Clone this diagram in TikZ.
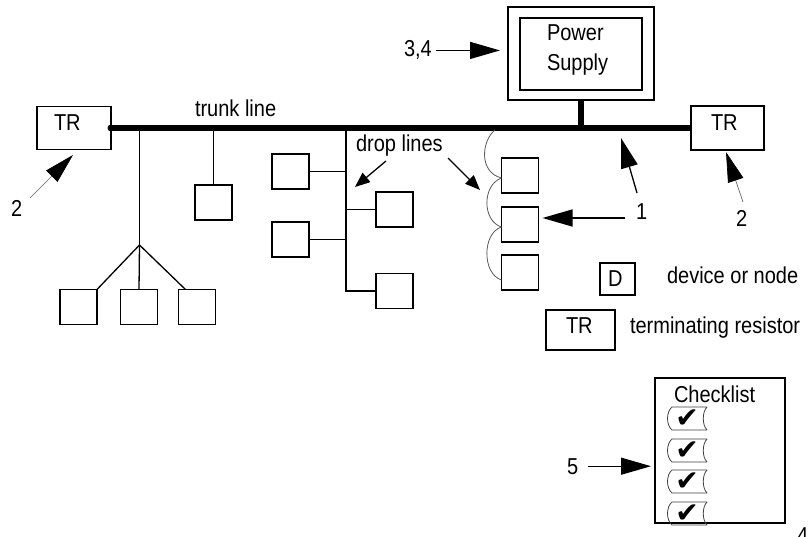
\documentclass[tikz,border=0pt]{standalone}
\usepackage{fontspec}
\setmainfont[FakeStretch=0.87]{Liberation Sans}
\newfontfamily\dejavu{DejaVu Sans}
\usetikzlibrary{arrows.meta,calc}
\begin{document}
\begin{tikzpicture}[x=1pt,y=-1pt,
  every node/.style={inner sep=0pt, outer sep=0pt},
  txt/.style={anchor=base west, font=\fontsize{23}{27}\selectfont},
  bx/.style 2 args={draw, line width=1.3pt, minimum width=#1pt, minimum height=#2pt},
  dev/.style={bx={37}{35}},
  wire/.style={line width=1.3pt},
  chain/.style={line width=0.8pt, draw=black!65},
  bigarrow/.style={-{Triangle[length=30pt,width=17pt]}, line width=1.3pt},
  thinarrow/.style={-{Triangle[length=30pt,width=16pt,black]}, line width=0.7pt, draw=black!60},
  smallarrow/.style={-{Triangle[length=15pt,width=12pt]}, line width=1.3pt},
  tab/.style={line width=0.8pt, draw=black!75},
  chk/.style={font=\dejavu\fontsize{28}{28}\selectfont}
]
\useasboundingbox (0,0) rectangle (810,537);
\fill[white] (0,0) rectangle (810,537);

% power supply
\node[bx={146}{93}] (ps) at (581,53.5) {};
\node[bx={122}{72}] (psi) at (581,54) {};
\node[txt] (pw) at (547,41) {Power};
\node[txt] (su) at (547,71) {Supply};
\node[txt] (l34) at (404,57) {3,4};
\draw[bigarrow, shorten <=4pt, shorten >=8pt] (l34.east) -- (l34.east -| ps.west);

% terminating resistors and trunk
\node[bx={74}{43}] (trL) at (74,128) {};
\node[bx={73}{44}] (trR) at (727.5,128) {};
\node[txt] (trLt) at (54,131) {TR};
\node[txt] (trRt) at (711,131) {TR};
\node[txt] (tk) at (195,117) {trunk line};
\draw[line width=6pt] (trL.east) -- (trR.west);
\fill (trL.east) circle (3.5pt);
\draw[line width=6pt] (ps.south) -- (ps.south |- trL.east);

% devices
\node[dev] (b1) at (78.5,307) {};
\node[dev] (b2) at (139,307) {};
\node[dev] (b3) at (197,307) {};
\node[dev] (b4) at (213.5,202.5) {};
\node[dev] (b5) at (290.5,171.5) {};
\node[dev] (b6) at (290.5,239.5) {};
\node[dev] (b7) at (394.5,209.5) {};
\node[dev] (b8) at (394.5,291) {};
\node[dev] (b9) at (520,175.5) {};
\node[dev] (b10) at (520,224.5) {};
\node[dev] (b11) at (520,272.5) {};

% drop lines
\coordinate (j1) at (139.5,245);
\draw[wire] (j1 |- trL.east) -- (j1);
\draw[wire] (j1) -- (b1.north east);
\draw[wire] (j1) -- (b2.north);
\draw[wire] (j1) -- ([xshift=7pt]b3.north west);
\draw[wire] (b4.north) -- (b4.north |- trL.east);
\coordinate (j3) at (346,292);
\draw[wire] (j3 |- trL.east) -- (j3);
\draw[wire] (b5.east) -- (b5.east -| j3);
\draw[wire] (b6.east) -- (b6.east -| j3);
\draw[wire] (b7.west) -- (b7.west -| j3);
\draw[wire] (b8.west) -- (b8.west -| j3);

% daisy chain
\coordinate (d0) at (495,130);
\draw[chain] (d0) .. controls (482,140) and (478,172) .. ([yshift=-2.5pt]b9.west);
\draw[chain] ([yshift=-2.5pt]b9.west) .. controls (482,185) and (482,221) .. ([yshift=-2.5pt]b10.west);
\draw[chain] ([yshift=-2.5pt]b10.west) .. controls (482,233) and (482,274) .. ([yshift=-7.5pt]b11.west);

% drop lines label
\node[txt] (dl) at (356,152) {drop lines};
\coordinate (da1) at (386,161);
\coordinate (dt1) at (355,187);
\draw[smallarrow] (da1) -- (dt1);
\coordinate (da2) at (448,158);
\coordinate (dt2) at (480,190);
\draw[smallarrow] (da2) -- (dt2);

% callouts 1
\node[txt] (l1) at (636,220) {1};
\coordinate (s1) at (637,193);
\coordinate (t1) at (621,138);
\draw[bigarrow] (s1) -- (t1);
\coordinate (s1b) at (625,218);
\draw[bigarrow, shorten >=4pt] (s1b) -- (s1b -| b10.east);

% callouts 2
\node[txt] (l2a) at (11,217) {2};
\coordinate (s2a) at (30,198);
\coordinate (t2a) at (73,155);
\draw[thinarrow] (s2a) -- (t2a);
\node[txt] (l2b) at (736,226) {2};
\coordinate (s2b) at (743,202);
\coordinate (t2b) at (726,152);
\draw[thinarrow] (s2b) -- (t2b);

% legend
\node[bx={35}{32}] (lgD) at (617.5,279) {};
\node[txt] (lgDt) at (608,286) {D};
\node[txt] (lgDd) at (667,283) {device or node};
\node[bx={69}{40}] (lgT) at (580.5,330) {};
\node[txt] (lgTt) at (566,333) {TR};
\node[txt] (lgTd) at (630,333) {terminating resistor};

% checklist
\node[bx={130}{145}] (ck) at (720,450.5) {};
\node[txt] (ckt) at (674,402) {Checklist};
\foreach \t [count=\i] in {407,439,470,502} {
  \draw[tab] (707,\t) -- (672,\t) .. controls (666,\t+5) and (666,\t+18) .. (672,\t+23) -- (707,\t+23);
  \draw[tab] (707,\t) .. controls (702,\t+5) and (702,\t+18) .. (707,\t+23);
  \node[chk] (c\i) at (687,\t+12) {✔};
}
\node[txt] (l5) at (567,474) {5};
\draw[bigarrow, shorten <=10pt, shorten >=4pt] (l5.east) -- (l5.east -| ck.west);

% page number fragment
\node[txt] (pg) at (797,543) {4};
\end{tikzpicture}
\end{document}
